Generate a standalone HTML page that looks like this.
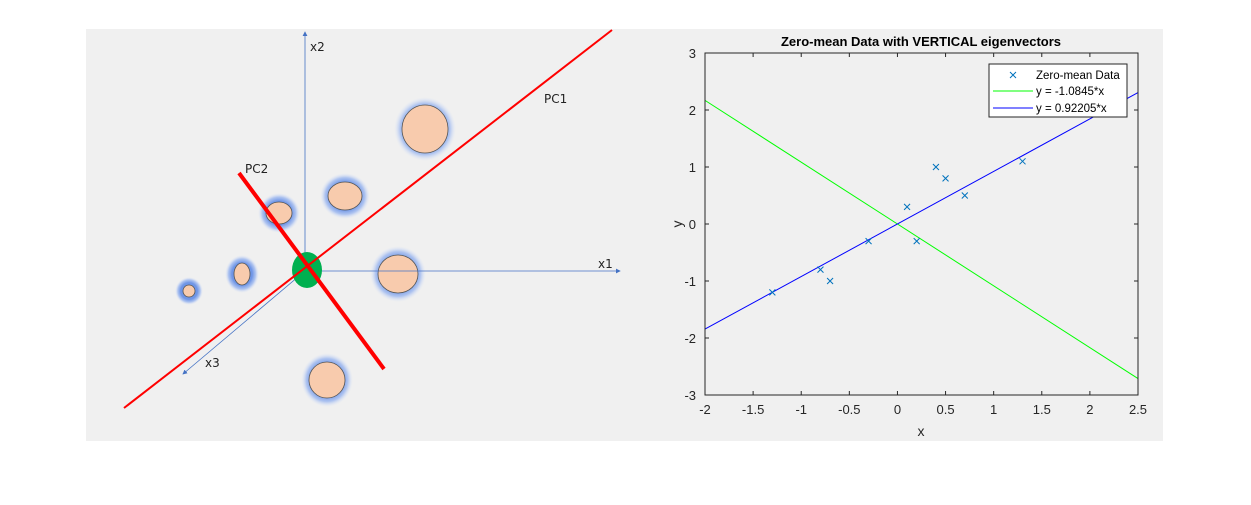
<!DOCTYPE html>
<html><head><meta charset="utf-8"><style>
body{margin:0;background:#fff;width:1251px;height:505px;overflow:hidden;font-family:"Liberation Sans",sans-serif}
svg{position:absolute;left:0;top:0}
</style></head><body>
<svg width="1251" height="505">
<defs>
<radialGradient id="glow" cx="50%" cy="50%" r="50%">
<stop offset="0.6" stop-color="#6f95e6" stop-opacity="1"/>
<stop offset="0.8" stop-color="#a3bcf0" stop-opacity="0.85"/>
<stop offset="1" stop-color="#dfe7f7" stop-opacity="0"/>
</radialGradient>
<marker id="arr" markerWidth="6" markerHeight="6" refX="5" refY="3" orient="auto"><path d="M0,0 L6,3 L0,6z" fill="#4472c4"/></marker>
</defs>
<rect x="86" y="29" width="1077" height="412" fill="#f0f0f0"/>
<g>
<g>
<ellipse cx="425" cy="129" rx="31" ry="32" fill="url(#glow)"/><ellipse cx="425" cy="129" rx="23" ry="24" fill="#f8cbad" stroke="#555" stroke-width="0.8"/>
<ellipse cx="345" cy="196" rx="25" ry="23" fill="url(#glow)"/><ellipse cx="345" cy="196" rx="17" ry="14" fill="#f8cbad" stroke="#555" stroke-width="0.8"/>
<ellipse cx="279" cy="213" rx="21" ry="20" fill="url(#glow)"/><ellipse cx="279" cy="213" rx="13" ry="11" fill="#f8cbad" stroke="#555" stroke-width="0.8"/>
<ellipse cx="398" cy="274" rx="28" ry="28" fill="url(#glow)"/><ellipse cx="398" cy="274" rx="20" ry="19" fill="#f8cbad" stroke="#555" stroke-width="0.8"/>
<ellipse cx="242" cy="274" rx="17" ry="19" fill="url(#glow)"/><ellipse cx="242" cy="274" rx="8" ry="11" fill="#f8cbad" stroke="#555" stroke-width="0.8"/>
<ellipse cx="189" cy="291" rx="14" ry="14" fill="url(#glow)"/><ellipse cx="189" cy="291" rx="6" ry="6" fill="#f8cbad" stroke="#555" stroke-width="0.8"/>
<ellipse cx="327" cy="380" rx="26" ry="27" fill="url(#glow)"/><ellipse cx="327" cy="380" rx="18" ry="18" fill="#f8cbad" stroke="#555" stroke-width="0.8"/>
</g>
<line x1="305" y1="268" x2="305" y2="32" stroke="#4472c4" stroke-width="0.8" marker-end="url(#arr)"/>
<line x1="305" y1="271" x2="620" y2="271" stroke="#4472c4" stroke-width="0.8" marker-end="url(#arr)"/>
<line x1="305" y1="271" x2="183" y2="374" stroke="#4472c4" stroke-width="0.8" marker-end="url(#arr)"/>
<ellipse cx="307" cy="270" rx="15" ry="18" fill="#00b050"/>
<line x1="124" y1="408" x2="612" y2="30" stroke="#ff0000" stroke-width="2"/>
<line x1="239" y1="173" x2="384" y2="369" stroke="#ff0000" stroke-width="4"/>
<g font-family="'DejaVu Sans','Liberation Sans',sans-serif" font-size="12" fill="#222">
<text x="310" y="51">x2</text>
<text x="598" y="268">x1</text>
<text x="205" y="367">x3</text>
<text x="544" y="103">PC1</text>
<text x="245" y="173">PC2</text>
</g>
</g>
<g id="chart"></g>
</svg>
<script>
const xTicks=[-2,-1.5,-1,-0.5,0,0.5,1,1.5,2,2.5];
const yTicks=[-3,-2,-1,0,1,2,3];
const dataX=[-1.3,-0.8,-0.7,-0.3,0.1,0.2,0.4,0.5,0.7,1.3];
const dataY=[-1.2,-0.8,-1.0,-0.3,0.3,-0.3,1.0,0.8,0.5,1.1];
const slopes=[-1.0845,0.92205];
const lineLabels=["y = -1.0845*x","y = 0.92205*x"];
const lineColors=["#00ff00","#0000ff"];
const L=705,R=1138,T=53,B=395,xmin=-2,xmax=2.5,ymin=-3,ymax=3;
const sx=v=>L+(v-xmin)/(xmax-xmin)*(R-L);
const sy=v=>B-(v-ymin)/(ymax-ymin)*(B-T);
const NS="http://www.w3.org/2000/svg";
const g=document.getElementById('chart');
function mk(t,a,p){const e=document.createElementNS(NS,t);for(const k in a)e.setAttribute(k,a[k]);(p||g).appendChild(e);return e;}
slopes.forEach((m,i)=>{
 let x0=xmin,x1=xmax;
 const el=mk('line',{x1:sx(x0),y1:sy(m*x0),x2:sx(x1),y2:sy(m*x1),stroke:lineColors[i],"stroke-width":1});
 
 
});
dataX.forEach((x,i)=>{
 const cx=sx(x),cy=sy(dataY[i]);
 const el=mk('path',{d:`M${cx-3},${cy-3}L${cx+3},${cy+3}M${cx-3},${cy+3}L${cx+3},${cy-3}`,stroke:"#0072bd","stroke-width":1});
 
 
});
mk('rect',{x:L,y:T,width:R-L,height:B-T,fill:"none",stroke:"#262626","stroke-width":1});
xTicks.forEach(v=>{
 mk('line',{x1:sx(v),y1:B,x2:sx(v),y2:B-4,stroke:"#262626"});
 mk('line',{x1:sx(v),y1:T,x2:sx(v),y2:T+4,stroke:"#262626"});
 const t=mk('text',{x:sx(v),y:B+19,"text-anchor":"middle","font-size":13,fill:"#262626"});t.textContent=v;
 
 
});
yTicks.forEach(v=>{
 mk('line',{x1:L,y1:sy(v),x2:L+4,y2:sy(v),stroke:"#262626"});
 mk('line',{x1:R,y1:sy(v),x2:R-4,y2:sy(v),stroke:"#262626"});
 const t=mk('text',{x:L-9,y:sy(v)+5,"text-anchor":"end","font-size":13,fill:"#262626"});t.textContent=v;
 
 
});
let t=mk('text',{x:921,y:46,"text-anchor":"middle","font-size":13,"font-weight":"bold",fill:"#000"});t.textContent="Zero-mean Data with VERTICAL eigenvectors";


t=mk('text',{x:921,y:436,"text-anchor":"middle","font-size":14,fill:"#262626"});t.textContent="x";


t=mk('text',{x:682,y:224,"text-anchor":"middle","font-size":14,fill:"#262626",transform:"rotate(-90 682 224)"});t.textContent="y";


const lg=mk('g',{});


mk('rect',{x:989,y:64,width:138,height:53,fill:"#fff",stroke:"#262626"},lg);
mk('path',{d:"M1010,72L1016,78M1010,78L1016,72",stroke:"#0072bd"},lg);
t=mk('text',{x:1036,y:79,"font-size":11.5,fill:"#000"},lg);t.textContent="Zero-mean Data";
lineLabels.forEach((s,i)=>{
 const yy=91+i*17;
 mk('line',{x1:993,y1:yy,x2:1033,y2:yy,stroke:lineColors[i]},lg);
 const tt=mk('text',{x:1036,y:yy+4,"font-size":11.5,fill:"#000"},lg);tt.textContent=s;
 
 
});
</script>
</body></html>
